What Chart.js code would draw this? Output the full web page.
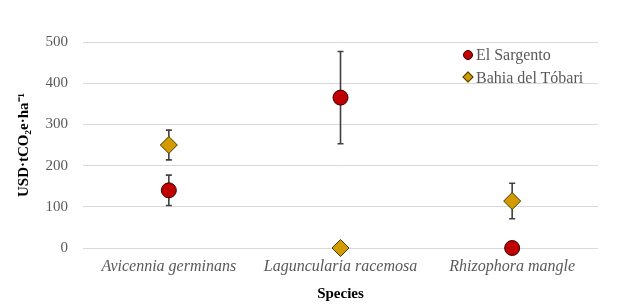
<!DOCTYPE html>
<html>
<head>
<meta charset="utf-8">
<script src="https://cdn.jsdelivr.net/npm/chart.js@4.4.0/dist/chart.umd.min.js"></script>
<style>
  html, body { margin: 0; padding: 0; background: #fff; }
  #wrap { position: relative; width: 627px; height: 305px; }
  #legend { position: absolute; left: 463px; top: 44px; font-family: "Liberation Serif", serif; font-size: 16px; color: #595959; }
  #legend div { height: 22.5px; line-height: 22px; white-space: nowrap; }
  #legend span.m { display: inline-block; vertical-align: middle; margin-right: 3px; margin-top: -3px; }
</style>
</head>
<body>
<div id="wrap">
  <canvas id="c" width="627" height="305"></canvas>
  <div id="legend"></div>
</div>
<script>
// species on the x axis
const species = ['Avicennia germinans', 'Laguncularia racemosa', 'Rhizophora mangle'];
const yTicks = [0, 100, 200, 300, 400, 500];

// El Sargento
const sargento = [140, 365, 0];
const sargentoErr = [37, 112, 0];

// Bahia del Tóbari
const tobari = [250, 0, 114];
const tobariErr = [36, 0, 43];

const errBars = {
  id: 'errBars',
  beforeDatasetsDraw(chart) {
    const { ctx, scales } = chart;
    ctx.save();
    ctx.strokeStyle = '#404040';
    ctx.lineWidth = 1.6;
    chart.data.datasets.forEach((ds, i) => {
      const meta = chart.getDatasetMeta(i);
      ds.err.forEach((e, j) => {
        if (!e) return;
        const x = meta.data[j].x;
        const top = scales.y.getPixelForValue(ds.data[j] + e);
        const bot = scales.y.getPixelForValue(ds.data[j] - e);
        ctx.beginPath();
        ctx.moveTo(x, top); ctx.lineTo(x, bot);
        ctx.moveTo(x - 3, top); ctx.lineTo(x + 3, top);
        ctx.moveTo(x - 3, bot); ctx.lineTo(x + 3, bot);
        ctx.stroke();
      });
    });
    ctx.restore();
  }
};

const chart = new Chart(document.getElementById('c'), {
  type: 'line',
  data: {
    labels: species,
    datasets: [
      { label: 'El Sargento', data: sargento, err: sargentoErr, showLine: false,
        pointStyle: 'circle', pointRadius: 7.5, pointHoverRadius: 7.5,
        backgroundColor: '#C00000', borderColor: '#3a0000', borderWidth: 1, clip: false },
      { label: 'Bahia del Tóbari', data: tobari, err: tobariErr, showLine: false,
        pointStyle: 'rectRot', pointRadius: 8.5, pointHoverRadius: 8.5,
        backgroundColor: '#D29B00', borderColor: '#4a3a00', borderWidth: 1, clip: false },
    ],
  },
  options: {
    responsive: false, animation: false,
    layout: { padding: { top: 42, right: 29, left: 0, bottom: 0 } },
    plugins: { legend: { display: false }, tooltip: { enabled: false } },
    scales: {
      x: {
        offset: true,
        afterFit: (ax) => { ax.height = 57; },
        grid: { display: false, drawTicks: false }, border: { display: false },
        ticks: { color: '#595959', padding: 9, maxRotation: 0, font: { family: 'Liberation Serif', size: 16, style: 'italic' } },
        title: { display: true, text: 'Species', color: '#000', padding: { top: 9, bottom: 2 },
          font: { family: 'Liberation Serif', size: 15, weight: 'bold' } },
      },
      y: {
        min: 0, max: 500,
        afterBuildTicks: (ax) => { ax.ticks = yTicks.map(v => ({ value: v })); },
        afterFit: (ax) => { ax.width = 83; },
        grid: { color: '#d9d9d9', lineWidth: 1, drawTicks: false },
        border: { display: false },
        ticks: { color: '#595959', padding: 15, font: { family: 'Liberation Serif', size: 15 } },
        title: { display: true, text: 'USD·tCO₂e·ha⁻¹', color: '#000', padding: { top: 15, bottom: 0 },
          font: { family: 'Liberation Serif', size: 15, weight: 'bold' } },
      },
    },
  },
  plugins: [errBars],
});

// legend in the top right of the plot
const lg = document.getElementById('legend');
chart.data.datasets.forEach(ds => {
  const row = document.createElement('div');
  const m = document.createElement('span');
  m.className = 'm';
  if (ds.pointStyle === 'circle') {
    m.style.cssText += 'width:8px;height:8px;border-radius:50%;background:' + ds.backgroundColor + ';border:1px solid ' + ds.borderColor + ';';
  } else {
    m.style.cssText += 'width:6px;height:6px;transform:rotate(45deg);margin-left:1px;margin-right:4px;background:' + ds.backgroundColor + ';border:1px solid ' + ds.borderColor + ';';
  }
  row.appendChild(m);
  row.appendChild(document.createTextNode(ds.label));
  lg.appendChild(row);
});
</script>
</body>
</html>
